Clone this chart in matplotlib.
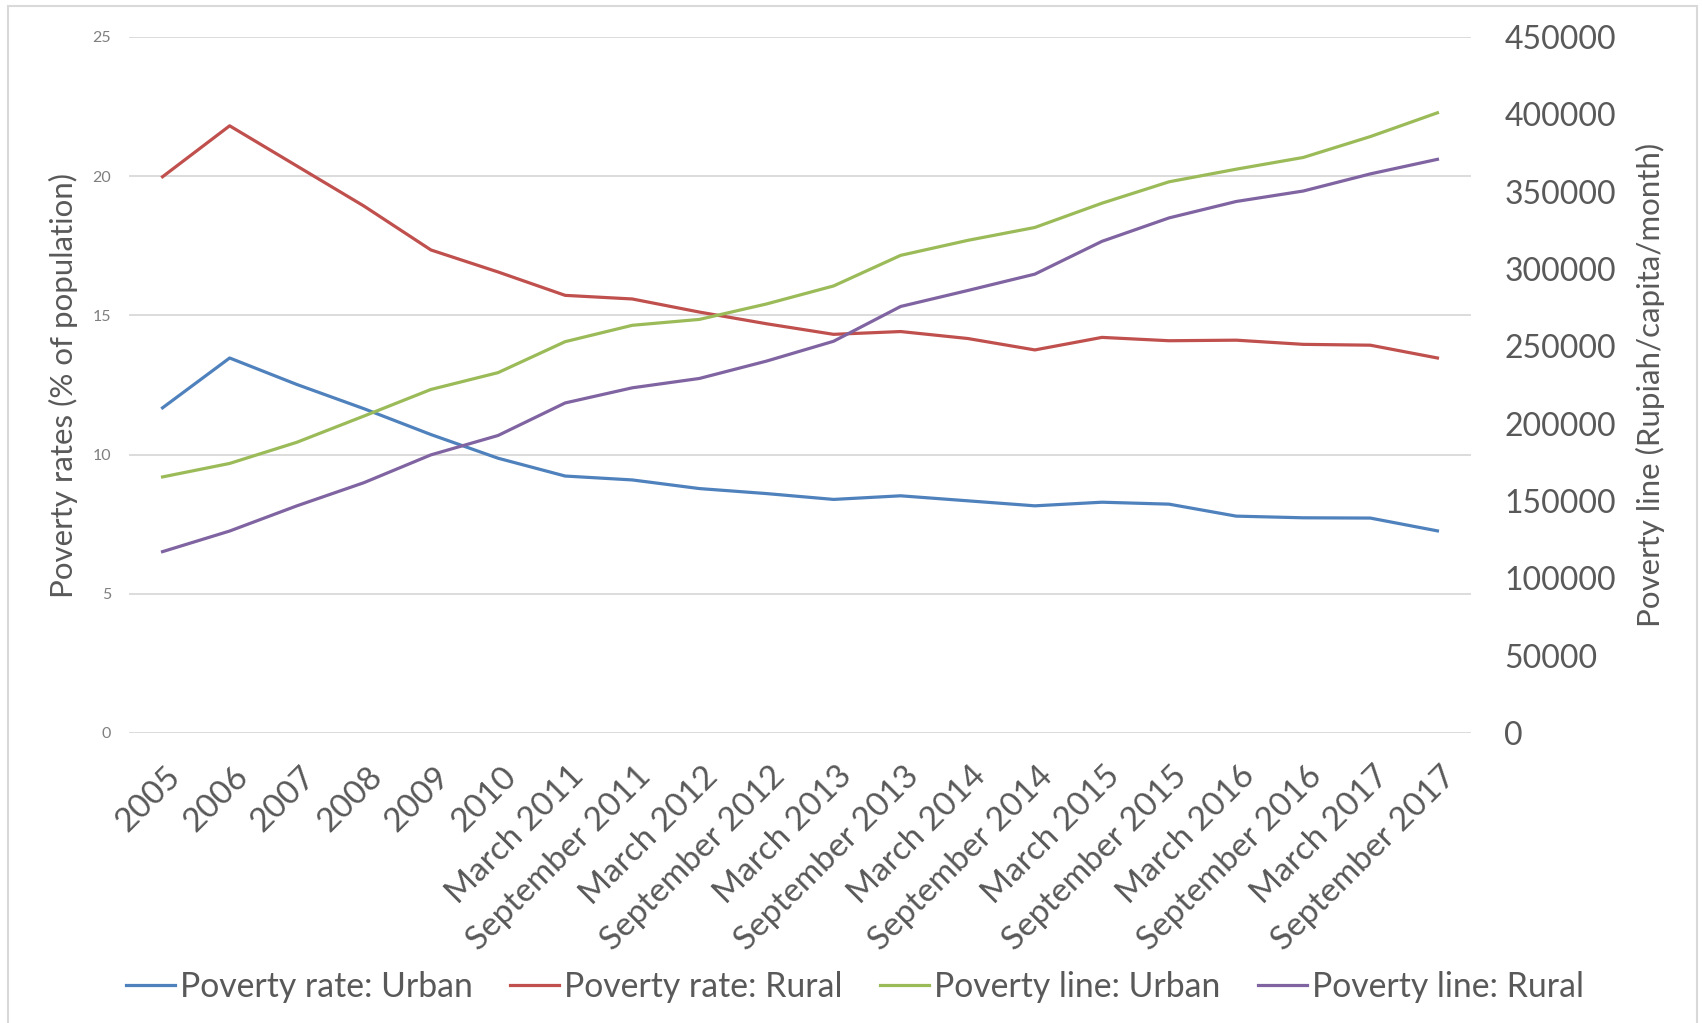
import matplotlib
matplotlib.use("Agg")
import matplotlib.pyplot as plt
import matplotlib.transforms as mtransforms
from matplotlib.patches import Rectangle
from matplotlib.ticker import FuncFormatter

# Survey periods (BPS, Indonesia)
periods = [
    "2005", "2006", "2007", "2008", "2009", "2010",
    "March 2011", "September 2011", "March 2012", "September 2012",
    "March 2013", "September 2013", "March 2014", "September 2014",
    "March 2015", "September 2015", "March 2016", "September 2016",
    "March 2017", "September 2017",
]

# Poverty rates, % of population
rate_urban = [11.68, 13.47, 12.52, 11.65, 10.72, 9.87, 9.23, 9.09, 8.78, 8.60,
              8.39, 8.52, 8.34, 8.16, 8.29, 8.22, 7.79, 7.73, 7.72, 7.26]
rate_rural = [19.98, 21.81, 20.37, 18.93, 17.35, 16.56, 15.72, 15.59, 15.12, 14.70,
              14.32, 14.42, 14.17, 13.76, 14.21, 14.09, 14.11, 13.96, 13.93, 13.47]

# Poverty lines, Rupiah/capita/month
line_urban = [165565, 174290, 187942, 204896, 222123, 232989, 253016, 263594,
              267408, 277382, 289041, 308826, 318514, 326853, 342541, 356378,
              364527, 372114, 385621, 400995]
line_rural = [117259, 130584, 146837, 161831, 179835, 192354, 213395, 223181,
              229226, 240441, 253273, 275779, 286097, 296681, 317881, 333034,
              343647, 350420, 361496, 370910]

left_ticks = [0, 5, 10, 15, 20, 25]
right_ticks = [0, 50000, 100000, 150000, 200000, 250000, 300000, 350000, 400000, 450000]

C_BLUE = "#4F81BD"
C_RED = "#C0504D"
C_GREEN = "#9BBB59"
C_PURPLE = "#8064A2"
TXT = "#595959"

plt.rcParams["font.family"] = ["Lato", "DejaVu Sans"]

fig = plt.figure(figsize=(17.02, 10.23), dpi=100)
W, H = 1702, 1023
ax = fig.add_axes([129 / W, 1 - 733 / H, (1471 - 129) / W, (733 - 37) / H])
ax2 = ax.twinx()

x = list(range(len(periods)))
lw = 2.3
l1, = ax.plot(x, rate_urban, color=C_BLUE, lw=lw, label="Poverty rate: Urban")
l2, = ax.plot(x, rate_rural, color=C_RED, lw=lw, label="Poverty rate: Rural")
l3, = ax2.plot(x, line_urban, color=C_GREEN, lw=lw, label="Poverty line: Urban")
l4, = ax2.plot(x, line_rural, color=C_PURPLE, lw=lw, label="Poverty line: Rural")

ax.set_xlim(-0.5, len(periods) - 0.5)
ax.set_ylim(0, 25)
ax2.set_ylim(0, 450000)
ax.set_yticks(left_ticks)
ax2.set_yticks(right_ticks)
ax2.yaxis.set_major_formatter(FuncFormatter(lambda v, p: f"{v:.0f}"))

ax.grid(axis="y", color="#D9D9D9", lw=1.3)
ax.set_axisbelow(True)
for a in (ax, ax2):
    for s in a.spines.values():
        s.set_visible(False)

ax.tick_params(axis="y", length=0, pad=13, labelsize=11.5, labelcolor="#7F7F7F")
ax2.tick_params(axis="y", length=0, pad=24, labelsize=23, labelcolor=TXT)
ax.tick_params(axis="x", length=0, pad=0)

ax.set_xticks(x)
ax.set_xticklabels(periods, rotation=45, ha="right", va="top",
                   rotation_mode="anchor", fontsize=24, color=TXT)
shift = mtransforms.ScaledTranslation(3 / 100, -28 / 100, fig.dpi_scale_trans)
for lab in ax.get_xticklabels():
    lab.set_transform(lab.get_transform() + shift)

fig.text(63 / W, 1 - 385 / H, "Poverty rates (% of population)", rotation=90,
         ha="center", va="center", fontsize=22.5, color=TXT)
fig.text(1650 / W, 1 - 385 / H, "Poverty line (Rupiah/capita/month)", rotation=90,
         ha="center", va="center", fontsize=22.5, color=TXT)

leg = fig.legend(handles=[l1, l2, l3, l4], loc="center", ncol=4,
                 bbox_to_anchor=(855 / W, 1 - 987 / H), frameon=False,
                 fontsize=24.3, handlelength=1.45, handletextpad=0.15,
                 columnspacing=1.1, borderaxespad=0)
for t in leg.get_texts():
    t.set_color(TXT)

fig.patches.append(Rectangle((8 / W, -0.02), (1697 - 8) / W, 1.02 - 6 / H,
                             transform=fig.transFigure, fill=False,
                             edgecolor="#D9D9D9", lw=1.5))

fig.savefig("out.png", dpi=100, facecolor="white")
